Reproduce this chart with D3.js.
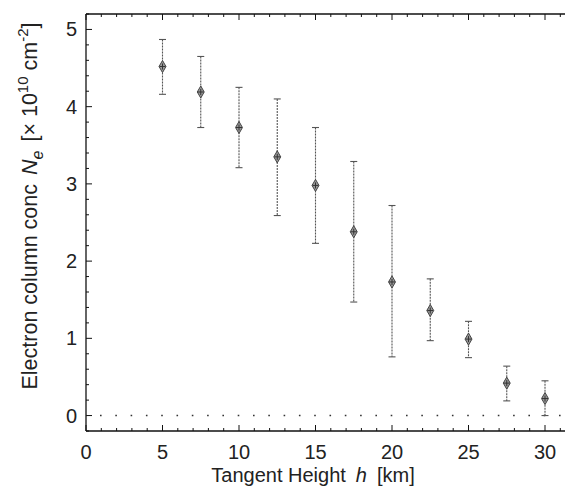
<!DOCTYPE html>
<html><head><meta charset="utf-8">
<script src="https://cdn.jsdelivr.net/npm/d3@7"></script>
<style>body{margin:0;background:#fff}svg{display:block}text{font-family:"Liberation Sans",Arial,sans-serif;fill:#222}</style>
</head><body>
<script>
const heights = [5, 7.5, 10, 12.5, 15, 17.5, 20, 22.5, 25, 27.5, 30];
const values  = [4.52, 4.19, 3.73, 3.35, 2.98, 2.38, 1.73, 1.36, 0.99, 0.42, 0.22];
const upper   = [4.87, 4.65, 4.25, 4.10, 3.73, 3.29, 2.72, 1.77, 1.22, 0.64, 0.45];
const lower   = [4.16, 3.73, 3.21, 2.59, 2.23, 1.47, 0.76, 0.97, 0.75, 0.19, 0.00];
const xTicks = [0, 5, 10, 15, 20, 25, 30];
const yTicks = [0, 1, 2, 3, 4, 5];

const W = 565, H = 493;
const svg = d3.select("body").append("svg").attr("width", W).attr("height", H);
const x = d3.scaleLinear().domain([0, 32]).range([86, 86 + 32 * 15.3]);
const y = d3.scaleLinear().domain([-0.2, 5.2]).range([431, 14]);
const x0 = x.range()[0], x1 = x.range()[1];
const yTop = y.range()[1], yBot = y.range()[0];

const ax = svg.append("g");
ax.append("line").attr("x1", x0).attr("x2", x1).attr("y1", yTop).attr("y2", yTop).attr("stroke", "#111").attr("stroke-width", 1.3);
ax.append("line").attr("x1", x0).attr("x2", x1).attr("y1", yBot).attr("y2", yBot).attr("stroke", "#111").attr("stroke-width", 1.3);
ax.append("line").attr("x1", x0).attr("x2", x0).attr("y1", yTop).attr("y2", yBot).attr("stroke", "#111").attr("stroke-width", 1.3);

const xMinor = d3.range(0, 33, 1);
xMinor.forEach(v => {
  const major = v % 5 === 0;
  const L = major ? 6 : 3;
  ax.append("line").attr("x1", x(v)).attr("x2", x(v)).attr("y1", yBot).attr("y2", yBot - L).attr("stroke", "#111").attr("stroke-width", 1);
  ax.append("line").attr("x1", x(v)).attr("x2", x(v)).attr("y1", yTop).attr("y2", yTop + L).attr("stroke", "#111").attr("stroke-width", 1);
});
const yMinor = d3.range(-0.2, 5.21, 0.2).map(v => Math.round(v * 10) / 10);
yMinor.forEach(v => {
  const major = Math.abs(v - Math.round(v)) < 1e-6;
  const L = major ? 6 : 3;
  ax.append("line").attr("x1", x0).attr("x2", x0 + L).attr("y1", y(v)).attr("y2", y(v)).attr("stroke", "#111").attr("stroke-width", 1);
});

svg.append("g").selectAll("text").data(xTicks).join("text")
  .attr("x", d => x(d)).attr("y", 459).attr("text-anchor", "middle")
  .attr("font-size", 20).text(d => d);
svg.append("g").selectAll("text").data(yTicks).join("text")
  .attr("x", 77).attr("y", d => y(d) + 7).attr("text-anchor", "end")
  .attr("font-size", 20).text(d => d);

svg.append("line").attr("x1", x(0)).attr("x2", x1).attr("y1", y(0)).attr("y2", y(0))
  .attr("stroke", "#333").attr("stroke-width", 1.6).attr("stroke-dasharray", "1.6,13.7")
  .attr("stroke-dashoffset", -14);

const data = heights.map((h, i) => ({h, v: values[i], hi: upper[i], lo: lower[i]}));
const eb = svg.append("g").attr("stroke", "#555").attr("stroke-width", 1.1);
eb.selectAll("line.v").data(data).join("line").attr("class", "v")
  .attr("x1", d => x(d.h)).attr("x2", d => x(d.h)).attr("y1", d => y(d.hi)).attr("y2", d => y(d.lo))
  .attr("stroke-dasharray", "2,1");
eb.selectAll("line.t").data(data).join("line").attr("class", "t")
  .attr("x1", d => x(d.h) - 3.5).attr("x2", d => x(d.h) + 3.5).attr("y1", d => y(d.hi)).attr("y2", d => y(d.hi));
eb.selectAll("line.b").data(data).join("line").attr("class", "b")
  .attr("x1", d => x(d.h) - 3.5).attr("x2", d => x(d.h) + 3.5).attr("y1", d => y(d.lo)).attr("y2", d => y(d.lo));

const sym = d3.symbol().type(d3.symbolDiamond).size(42);
svg.append("g").selectAll("path").data(data).join("path")
  .attr("transform", d => `translate(${x(d.h)},${y(d.v)})`)
  .attr("d", sym).attr("fill", "#999").attr("stroke", "#444").attr("stroke-width", 1);
svg.append("g").selectAll("path").data(data).join("path")
  .attr("d", d => `M${x(d.h) - 3},${y(d.v)}H${x(d.h) + 3}M${x(d.h)},${y(d.v) - 3}V${y(d.v) + 3}`)
  .attr("stroke", "#333").attr("stroke-width", 1);

const xt = svg.append("text").attr("x", 313).attr("y", 482).attr("text-anchor", "middle").attr("font-size", 20);
xt.append("tspan").text("Tangent Height");
xt.append("tspan").attr("dx", 10).attr("font-style", "italic").text("h");
xt.append("tspan").attr("dx", 10).text("[km]");

const yt = svg.append("text").attr("transform", "translate(37,206) rotate(-90)").attr("text-anchor", "middle").attr("font-size", 21.5);
yt.append("tspan").text("Electron column conc");
yt.append("tspan").attr("dx", 9).attr("font-style", "italic").text("N");
yt.append("tspan").attr("font-style", "italic").attr("font-size", 16).attr("dy", 6).text("e");
yt.append("tspan").attr("dy", -6).attr("dx", 9).text("[\u00D7 10");
yt.append("tspan").attr("font-size", 15).attr("dy", -9).text("10");
yt.append("tspan").attr("dy", 9).text(" cm");
yt.append("tspan").attr("font-size", 15).attr("dy", -9).text("-2");
yt.append("tspan").attr("dy", 9).text("]");
</script>
</body></html>
